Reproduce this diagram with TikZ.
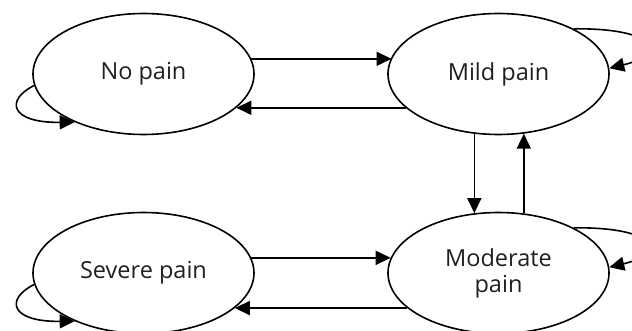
\documentclass[tikz,border=0pt]{standalone}
\usepackage{fontspec}
\setmainfont{Open Sans}
\usetikzlibrary{shapes.geometric,arrows.meta}
\begin{document}
\begin{tikzpicture}[x=1pt,y=-1pt,
  state/.style={ellipse,draw,line width=1.6pt,minimum width=221pt,minimum height=121pt,inner sep=0pt,
    font=\fontsize{23.5}{26}\selectfont,text=black!88,align=center},
  conn/.style={line width=1.6pt,-{Triangle[length=15pt,width=14pt]}}]
\useasboundingbox (0,0) rectangle (632,331);
\clip (0,0) rectangle (632,331);
\node[state] (np) at (143.5,74) {No pain};
\node[state] (mp) at (498.5,74) {Mild pain};
\node[state] (sp) at (143.5,273) {Severe pain};
\node[state] (mo) at (498.5,273) {Moderate\\pain};
% horizontal top
\draw[conn] (np.8.5) -- (np.8.5 -| mp.171.5);
\draw[conn] (mp.200.4) -- (mp.200.4 -| np.-20.4);
% horizontal bottom
\draw[conn] (sp.8) -- (sp.8 -| mo.172);
\draw[conn] (mo.201.2) -- (mo.201.2 -| sp.-21.2);
% vertical
\draw[conn] (mp.-112.5) -- (mp.-112.5 |- mo.112.5);
\draw[conn] (mo.67.5) -- (mo.67.5 |- mp.-67.5);
% self loops
\draw[conn] (np.186) .. controls (5,100) and (10,123) .. (np.215);
\draw[conn] (sp.186) .. controls (5,299) and (10,322) .. (sp.215);
\draw[conn] (mp.31) .. controls (660,28) and (665,55) .. (mp.3);
\draw[conn] (mo.31) .. controls (660,227) and (665,254) .. (mo.3);
\end{tikzpicture}
\end{document}
